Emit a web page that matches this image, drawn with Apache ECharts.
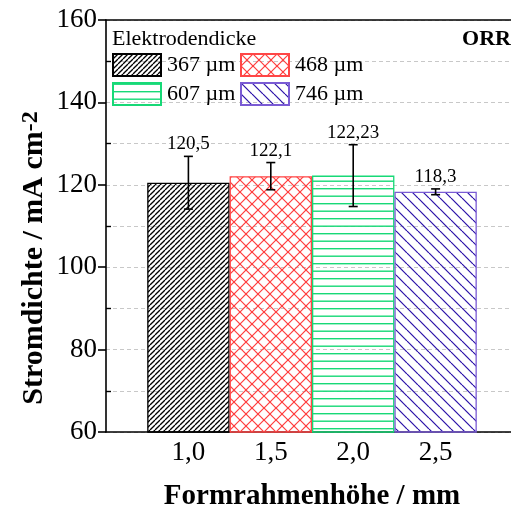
<!DOCTYPE html>
<html>
<head>
<meta charset="utf-8">
<script src="https://cdn.jsdelivr.net/npm/echarts@6/dist/echarts.min.js"></script>
<style>
  html, body { margin: 0; padding: 0; background: #fff; }
  #chart { width: 511px; height: 508px; }
</style>
</head>
<body>
<div id="chart"></div>
<script>
// Formrahmenhöhe (mm) for each bar
const frameHeights = [1.0, 1.5, 2.0, 2.5];
// Elektrodendicke, one legend entry per bar
const thicknessNames = ['367 µm', '468 µm', '607 µm', '746 µm'];
// Stromdichte (mA cm^-2) and its error
const currentDensity = [120.5, 122.1, 122.23, 118.3];
const currentError = [6.4, 3.3, 7.5, 0.7];
// y axis ticks
const yMajorTicks = [60, 80, 100, 120, 140, 160];
const yMinorTicks = [70, 90, 110, 130, 150];

const FONT = "'Liberation Serif', 'Times New Roman', serif";

// Hatch fills built on small tiles
function hatch(size, color, width, kinds) {
  const c = document.createElement('canvas');
  c.width = size; c.height = size;
  const g = c.getContext('2d');
  g.strokeStyle = color; g.fillStyle = color; g.lineWidth = width;
  kinds.forEach(function (k) {
    if (k === '/' || k === '\\') {
      for (let i = -1; i <= 1; i++) {
        g.beginPath();
        if (k === '/') { g.moveTo(i * size, size); g.lineTo(i * size + size, 0); }
        else { g.moveTo(i * size, 0); g.lineTo(i * size + size, size); }
        g.stroke();
      }
    } else if (k === '=') {
      g.fillRect(0, 0.5, size, width);
      g.fillRect(0, size / 2 + 0.5, size, width);
    }
  });
  return { image: c, repeat: 'repeat' };
}

const barStyles = [
  { fill: hatch(5, '#000000', 1.3, ['/']), border: '#000000' },
  { fill: hatch(12, '#ff3c3c', 1.2, ['/', '\\']), border: '#ff4646' },
  { fill: hatch(15, '#17d977', 1.4, ['=']), border: '#17d977' },
  { fill: hatch(11, '#2a10a8', 1.2, ['\\']), border: '#7a5bd4' }
];

const barSeries = thicknessNames.map(function (name, i) {
  return {
    name: name,
    type: 'bar',
    xAxisIndex: 0,
    yAxisIndex: 0,
    barWidth: 82.4,
    barGap: '-100%',
    data: [[frameHeights[i], currentDensity[i]]],
    itemStyle: {
      color: barStyles[i].fill,
      borderColor: barStyles[i].border,
      borderWidth: 1.3
    },
    emphasis: { disabled: true },
    z: 2
  };
});

const errorData = frameHeights.map(function (x, i) {
  return [x, currentDensity[i], currentError[i]];
});

const errorSeries = {
  type: 'custom',
  xAxisIndex: 0,
  yAxisIndex: 0,
  data: errorData,
  encode: { x: 0, y: 1 },
  z: 5,
  renderItem: function (params, api) {
    const x = api.value(0), v = api.value(1), e = api.value(2);
    const top = api.coord([x, v + e]);
    const bot = api.coord([x, v - e]);
    const hw = 4.5;
    const ls = { stroke: '#000', lineWidth: 1.6 };
    return {
      type: 'group',
      children: [
        { type: 'line', shape: { x1: top[0], y1: top[1], x2: bot[0], y2: bot[1] }, style: ls },
        { type: 'line', shape: { x1: top[0] - hw, y1: top[1], x2: top[0] + hw, y2: top[1] }, style: ls },
        { type: 'line', shape: { x1: bot[0] - hw, y1: bot[1], x2: bot[0] + hw, y2: bot[1] }, style: ls },
        {
          type: 'text',
          x: top[0], y: top[1] - 12,
          style: {
            text: String(v).replace('.', ','),
            fontFamily: FONT, fontSize: 19, fill: '#000',
            align: 'center', verticalAlign: 'middle'
          }
        }
      ]
    };
  }
};

const legendCommon = {
  orient: 'vertical',
  itemWidth: 48,
  itemHeight: 22,
  itemGap: 5,
  icon: 'rect',
  selectedMode: false,
  padding: 0,
  textStyle: { fontFamily: FONT, fontSize: 22, color: '#000', padding: [0, 0, 0, 1] }
};

const chart = echarts.init(document.getElementById('chart'), null, { renderer: 'canvas' });
chart.setOption({
  animation: false,
  backgroundColor: '#fff',
  // the frame runs on past the right page edge (to 3,0 mm)
  grid: { left: 106, top: 20, width: 412, height: 412, outerBoundsMode: 'none', containLabel: false },
  legend: [
    Object.assign({}, legendCommon, { data: [thicknessNames[0], thicknessNames[2]], left: 112, top: 53 }),
    Object.assign({}, legendCommon, { data: [thicknessNames[1], thicknessNames[3]], left: 240, top: 53 })
  ],
  graphic: [
    {
      type: 'text', left: 112, top: 28,
      style: { text: 'Elektrodendicke', fontFamily: FONT, fontSize: 22, fill: '#000' }
    },
    {
      type: 'text', right: 0, top: 28,
      style: { text: 'ORR', fontFamily: FONT, fontSize: 22, fontWeight: 'bold', fill: '#000' }
    }
  ],
  xAxis: [
    {
      type: 'value', min: 0.5, max: 3.0, interval: 0.5,
      position: 'bottom',
      axisLine: { show: true, onZero: false, lineStyle: { color: '#000', width: 1.6 } },
      axisTick: { show: false },
      splitLine: { show: false },
      axisLabel: {
        margin: 7,
        fontFamily: FONT, fontSize: 27, color: '#000',
        formatter: function (v) {
          return frameHeights.indexOf(v) >= 0 ? v.toFixed(1).replace('.', ',') : '';
        }
      },
      name: 'Formrahmenhöhe / mm',
      nameLocation: 'middle',
      nameGap: 50,
      nameTextStyle: { fontFamily: FONT, fontSize: 29, fontWeight: 'bold', color: '#000' }
    },
    {
      type: 'value', min: 0.5, max: 3.0, interval: 0.5,
      position: 'top',
      axisLine: { show: true, onZero: false, lineStyle: { color: '#000', width: 1.6 } },
      axisTick: { show: false },
      axisLabel: { show: false },
      splitLine: { show: false }
    }
  ],
  yAxis: [
    {
      type: 'value', min: 60, max: 160, interval: 10,
      position: 'left',
      axisLine: { show: true, onZero: false, lineStyle: { color: '#000', width: 1.6 } },
      axisTick: { show: false },
      axisLabel: { show: false },
      splitLine: { show: true, lineStyle: { color: '#c8c8c8', width: 1, type: [4, 3] } },
      name: '{b|Stromdichte / mA cm}{s|-2}',
      nameLocation: 'middle',
      nameGap: 57,
      nameTextStyle: {
        padding: [0, 64, 0, 0],
        rich: {
          b: { fontFamily: FONT, fontSize: 30, fontWeight: 'bold', color: '#000' },
          s: { fontFamily: FONT, fontSize: 24, fontWeight: 'bold', color: '#000', verticalAlign: 'top' }
        }
      }
    },
    {
      type: 'value', min: 60, max: 160, interval: 20,
      position: 'left',
      axisLine: { show: false },
      axisTick: { show: true, inside: false, length: 8, lineStyle: { color: '#000', width: 1.6 } },
      splitLine: { show: false },
      axisLabel: {
        margin: 9,
        fontFamily: FONT, fontSize: 27, color: '#000',
        customValues: yMajorTicks
      }
    },
    {
      type: 'value', min: 60, max: 160, interval: 10,
      position: 'left',
      axisLine: { show: false },
      axisTick: { show: true, inside: true, length: 5, customValues: yMinorTicks, lineStyle: { color: '#000', width: 1.4 } },
      axisLabel: { show: false },
      splitLine: { show: false }
    }
  ],
  series: barSeries.concat([errorSeries])
});
</script>
</body>
</html>
